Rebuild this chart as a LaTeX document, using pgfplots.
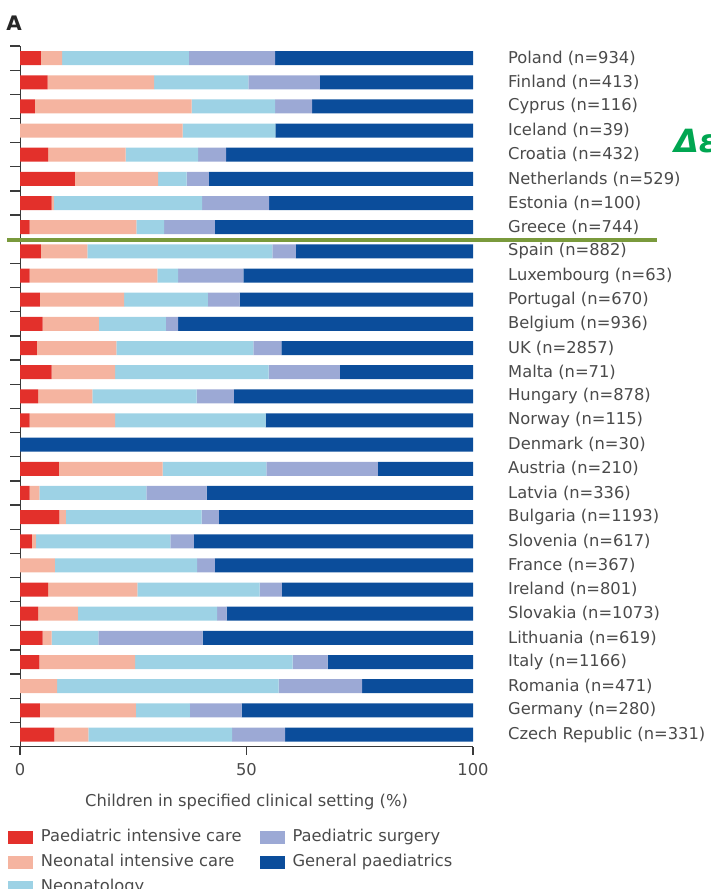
\documentclass[border=0pt]{standalone}
\usepackage{fontspec}
\setmainfont{DejaVu Sans}
\usepackage{pgfplots}
\pgfplotsset{compat=1.18}
\usepackage{pgfplotstable}

\definecolor{picred}{HTML}{E3302B}
\definecolor{nicsalmon}{HTML}{F5B4A0}
\definecolor{neoblue}{HTML}{9DD2E5}
\definecolor{surglav}{HTML}{9CA9D5}
\definecolor{genblue}{HTML}{0B4D9B}
\definecolor{axisgray}{HTML}{3A3A3A}
\definecolor{labelgray}{HTML}{4A4A4A}
\definecolor{markgreen}{HTML}{7A9A3C}
\definecolor{notegreen}{HTML}{00A651}

% Share of children (%) in each clinical setting, one row per country
\pgfplotstableread{
row pic  nic  neo  surg gen
0   4.6  4.7  28.0 19.0 43.7
1   6.1  23.5 20.8 15.8 33.8
2   3.3  34.6 18.4 8.2  35.5
3   0    35.9 20.5 0    43.6
4   6.2  17.1 16.0 6.2  54.5
5   12.1 18.4 6.3  4.9  58.3
6   7.0  0.5  32.7 14.8 45.0
7   2.1  23.6 6.1  11.2 57.0
8   4.6  10.3 40.8 5.2  39.1
9   2.1  28.2 4.6  14.4 50.7
10  4.4  18.6 18.5 7.0  51.5
11  5.0  12.4 14.8 2.7  65.1
12  3.7  17.6 30.2 6.2  42.3
13  7.0  14.0 33.9 15.7 29.4
14  4.0  12.0 23.0 8.2  52.8
15  2.1  18.9 33.2 0    45.8
16  0    0    0    0    100
17  8.6  22.9 22.9 24.6 21.0
18  2.1  2.2  23.6 13.3 58.8
19  8.7  1.4  30.0 3.8  56.1
20  2.6  0.9  29.7 5.2  61.6
21  0    7.7  31.4 3.9  57.0
22  6.2  19.7 27.0 4.9  42.2
23  4.0  8.8  30.7 2.1  54.4
24  5.0  2.0  10.3 23.0 59.7
25  4.3  21.1 34.8 7.7  32.1
26  0    8.2  48.9 18.4 24.5
27  4.4  21.2 11.9 11.4 51.1
28  7.6  7.5  31.7 11.7 41.5
}\settings

\newcommand{\lblfont}{\fontsize{16.3}{19}\selectfont}

\begin{document}
\begin{tikzpicture}[x=1pt,y=1pt]
\useasboundingbox (0,0) rectangle (710,-889);
\clip (0,0) rectangle (710,-889);

\node[font=\fontsize{20}{24}\selectfont\bfseries, text=black!85] at (14,-23) {A};

\begin{axis}[
  at={(20pt,-746.6pt)}, anchor=south west,
  scale only axis, width=453pt, height=700.6pt,
  xbar stacked, bar width=14pt,
  xmin=0, xmax=100, ymin=-0.5, ymax=28.5, y dir=reverse,
  axis line style={draw=none},
  tick align=outside,
  xtick={0,50,100}, xtick pos=bottom,
  major tick length=8pt, minor tick length=10pt,
  major x tick style={axisgray, line width=1.3pt},
  ytick={0,...,28}, ytick pos=left, yticklabel pos=right,
  major y tick style={draw=none},
  minor ytick={-0.5,0.5,...,28.5},
  minor y tick style={axisgray, line width=1.3pt},
  yticklabels={Poland (n=934), Finland (n=413), Cyprus (n=116), Iceland (n=39),
    Croatia (n=432), Netherlands (n=529), Estonia (n=100), Greece (n=744),
    Spain (n=882), Luxembourg (n=63), Portugal (n=670), Belgium (n=936),
    UK (n=2857), Malta (n=71), Hungary (n=878), Norway (n=115), Denmark (n=30),
    Austria (n=210), Latvia (n=336), Bulgaria (n=1193), Slovenia (n=617),
    France (n=367), Ireland (n=801), Slovakia (n=1073), Lithuania (n=619),
    Italy (n=1166), Romania (n=471), Germany (n=280), Czech Republic (n=331)},
  yticklabel style={font=\lblfont, text=labelgray, anchor=west, inner sep=0pt, xshift=27pt},
  xticklabel style={font=\lblfont, text=labelgray, inner sep=0pt, anchor=center, yshift=-15pt},
  /pgf/number format/assume math mode=true,
  xlabel={Children in specified clinical setting (\%)},
  xlabel style={font=\lblfont, text=labelgray, at={(axis description cs:0.5,0)}, anchor=center, yshift=-55pt},
  legend cell align=left,
  legend columns=2,
  legend image code/.code={\fill[#1] (0pt,-6.5pt) rectangle (25pt,6.5pt);},
  legend style={at={(axis description cs:-0.0265,-0.1180)}, anchor=north west,
    draw=none, fill=none, inner sep=0pt, outer sep=0pt,
    font=\lblfont, text=labelgray, row sep=9.5pt,
    nodes={inner sep=0pt, text height=12pt, text depth=3.5pt},
    /tikz/every odd column/.append style={column sep=8pt},
    /tikz/every even column/.append style={column sep=18pt}},
]
\addplot[fill=picred, draw=none, forget plot] table[x=pic, y=row] {\settings};
\addplot[fill=nicsalmon, draw=none, forget plot] table[x=nic, y=row] {\settings};
\addplot[fill=neoblue, draw=none, forget plot] table[x=neo, y=row] {\settings};
\addplot[fill=surglav, draw=none, forget plot] table[x=surg, y=row] {\settings};
\addplot[fill=genblue, draw=none, forget plot] table[x=gen, y=row] {\settings};

% legend laid out column by column
\addlegendimage{fill=picred, draw=none}
\addlegendentry{Paediatric intensive care}
\addlegendimage{fill=surglav, draw=none}
\addlegendentry{Paediatric surgery}
\addlegendimage{fill=nicsalmon, draw=none}
\addlegendentry{Neonatal intensive care}
\addlegendimage{fill=genblue, draw=none}
\addlegendentry{General paediatrics}
\addlegendimage{fill=neoblue, draw=none}
\addlegendentry{Neonatology}

% left and bottom axis lines
\draw[axisgray, line width=1.3pt] (rel axis cs:0,1) -- (rel axis cs:0,0) -- (rel axis cs:1,0);
\end{axis}

% highlighted divider and note
\draw[markgreen, line width=4pt] (7,-240) -- (657,-240);
\node[font=\fontsize{32}{36}\selectfont\bfseries\itshape, text=notegreen, anchor=west, inner sep=0pt] at (674,-141) {Δε};
\end{tikzpicture}
\end{document}
